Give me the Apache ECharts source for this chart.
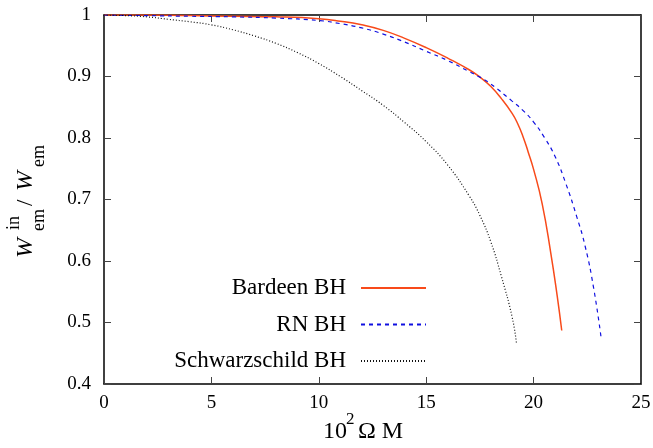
<!DOCTYPE html>
<html>
<head>
<meta charset="utf-8">
<style>
  html, body { margin: 0; padding: 0; background: #fff; }
  #chart { width: 653px; height: 448px; }
</style>
<script src="https://cdn.jsdelivr.net/npm/echarts@6/dist/echarts.min.js"></script>
</head>
<body>
<div id="chart"></div>
<script>
// Fraction of emitted energy W_em^in / W_em versus 10^2 Ω M
const bardeenX = [0, 2, 4, 6, 8, 10, 11, 12, 13, 14, 15, 16, 17, 17.5, 18, 18.5, 19, 19.25, 19.5, 19.75, 20, 20.4, 20.8, 21.1, 21.31];
const bardeenY = [1, 1, 0.999, 0.998, 0.997, 0.994, 0.99, 0.984, 0.975, 0.962, 0.947, 0.93, 0.911, 0.899, 0.884, 0.864, 0.840, 0.824, 0.803, 0.777, 0.749, 0.693, 0.613, 0.543, 0.487];

const rnX = [0, 2, 4, 6, 8, 10, 11, 12, 13, 14, 15, 16, 17, 17.5, 18, 19, 19.5, 20, 20.5, 21, 21.5, 22, 22.4, 22.8, 23.14];
const rnY = [1, 0.999, 0.998, 0.997, 0.995, 0.991, 0.986, 0.979, 0.969, 0.956, 0.941, 0.926, 0.908, 0.899, 0.888, 0.86, 0.845, 0.826, 0.801, 0.770, 0.726, 0.673, 0.624, 0.555, 0.476];

const schwX = [0, 1, 2, 3, 4, 5, 6, 7, 8, 9, 10, 11, 12, 13, 14, 15, 16, 17, 17.5, 18, 18.5, 19, 19.2];
const schwY = [1, 0.999, 0.997, 0.993, 0.989, 0.984, 0.976, 0.966, 0.954, 0.939, 0.921, 0.9, 0.877, 0.853, 0.825, 0.794, 0.756, 0.706, 0.674, 0.632, 0.575, 0.509, 0.467];

const seriesNames = ['Bardeen BH', 'RN BH', 'Schwarzschild BH'];
const xTicks = [0, 5, 10, 15, 20, 25];
const yTicks = [0.4, 0.5, 0.6, 0.7, 0.8, 0.9, 1];

const pairs = (xs, ys) => xs.map((x, i) => [x, ys[i]]);

const serif = 'Liberation Serif';
const tickFont = { fontFamily: serif, fontSize: 19, color: '#000' };

const baseX = {
  type: 'value', min: xTicks[0], max: xTicks[xTicks.length - 1], interval: 5,
  splitLine: { show: false },
  axisLine: { show: true, onZero: false, lineStyle: { color: '#000', width: 1.5 } },
  axisTick: { show: true, inside: true, length: 7, lineStyle: { color: '#444', width: 1 } }
};
const baseY = {
  type: 'value', min: yTicks[0], max: yTicks[yTicks.length - 1], interval: 0.1,
  splitLine: { show: false },
  axisLine: { show: true, onZero: false, lineStyle: { color: '#000', width: 1.5 } },
  axisTick: { show: true, inside: true, length: 7, lineStyle: { color: '#444', width: 1 } }
};

const lineSeries = (name, data, color, type, width) => ({
  name, type: 'line', data, symbol: 'none', showSymbol: false,
  smooth: 0.5, animation: false,
  lineStyle: { color, type, width }, itemStyle: { color }
});

const chart = echarts.init(document.getElementById('chart'));
chart.setOption({
  animation: false,
  backgroundColor: '#fff',
  grid: { left: 104, right: 12, top: 15, bottom: 64, containLabel: false, outerBoundsMode: 'none' },
  xAxis: [
    Object.assign({}, baseX, {
      position: 'bottom',
      axisLabel: Object.assign({ margin: 10 }, tickFont)
    }),
    Object.assign({}, baseX, { position: 'top', axisLabel: { show: false } })
  ],
  yAxis: [
    Object.assign({}, baseY, {
      position: 'left',
      axisLabel: Object.assign({ margin: 13, formatter: v => String(+v.toFixed(1)) }, tickFont)
    }),
    Object.assign({}, baseY, { position: 'right', axisLabel: { show: false } })
  ],
  legend: {
    orient: 'vertical', align: 'right',
    right: 226, top: 276, padding: 0,
    itemWidth: 65, itemHeight: 14, itemGap: 12.5,
    itemStyle: { opacity: 0 },
    textStyle: { fontFamily: serif, fontSize: 23, color: '#000', lineHeight: 24, padding: [0, 10, 0, 0] },
    data: seriesNames,
    selectedMode: false
  },
  series: [
    lineSeries(seriesNames[0], pairs(bardeenX, bardeenY), '#f84a1a', 'solid', 1.5),
    lineSeries(seriesNames[1], pairs(rnX, rnY), '#1010e0', [4, 4], 1.2),
    lineSeries(seriesNames[2], pairs(schwX, schwY), '#111', [1, 2], 1.2)
  ],
  graphic: [
    // x-axis title: 10^2 Ω M
    { type: 'text', left: 323, top: 420, style: { text: '10', font: '24px "Liberation Serif"', fill: '#000' } },
    { type: 'text', left: 346, top: 411, style: { text: '2', font: '17px "Liberation Serif"', fill: '#000' } },
    { type: 'text', left: 358, top: 420, style: { text: 'Ω M', font: '24px "Liberation Serif"', fill: '#000' } },
    // y-axis title: W_em^in / W_em, rotated to read upwards
    {
      type: 'group', x: 0, y: 258, rotation: Math.PI / 2,
      children: [
        { type: 'text', x: 0, y: 25.5, style: { text: 'W', font: 'italic 24px "Liberation Serif"', fill: '#000', verticalAlign: 'middle', align: 'left' } },
        { type: 'text', x: 27, y: 39, style: { text: 'em', font: '18px "Liberation Serif"', fill: '#000', verticalAlign: 'middle', align: 'left' } },
        { type: 'text', x: 28, y: 14, style: { text: 'in', font: '18px "Liberation Serif"', fill: '#000', verticalAlign: 'middle', align: 'left' } },
        { type: 'text', x: 52, y: 25.5, style: { text: '/', font: '23px "Liberation Serif"', fill: '#000', verticalAlign: 'middle', align: 'left' } },
        { type: 'text', x: 67, y: 25.5, style: { text: 'W', font: 'italic 24px "Liberation Serif"', fill: '#000', verticalAlign: 'middle', align: 'left' } },
        { type: 'text', x: 91, y: 39, style: { text: 'em', font: '18px "Liberation Serif"', fill: '#000', verticalAlign: 'middle', align: 'left' } }
      ]
    }
  ]
});
</script>
</body>
</html>
